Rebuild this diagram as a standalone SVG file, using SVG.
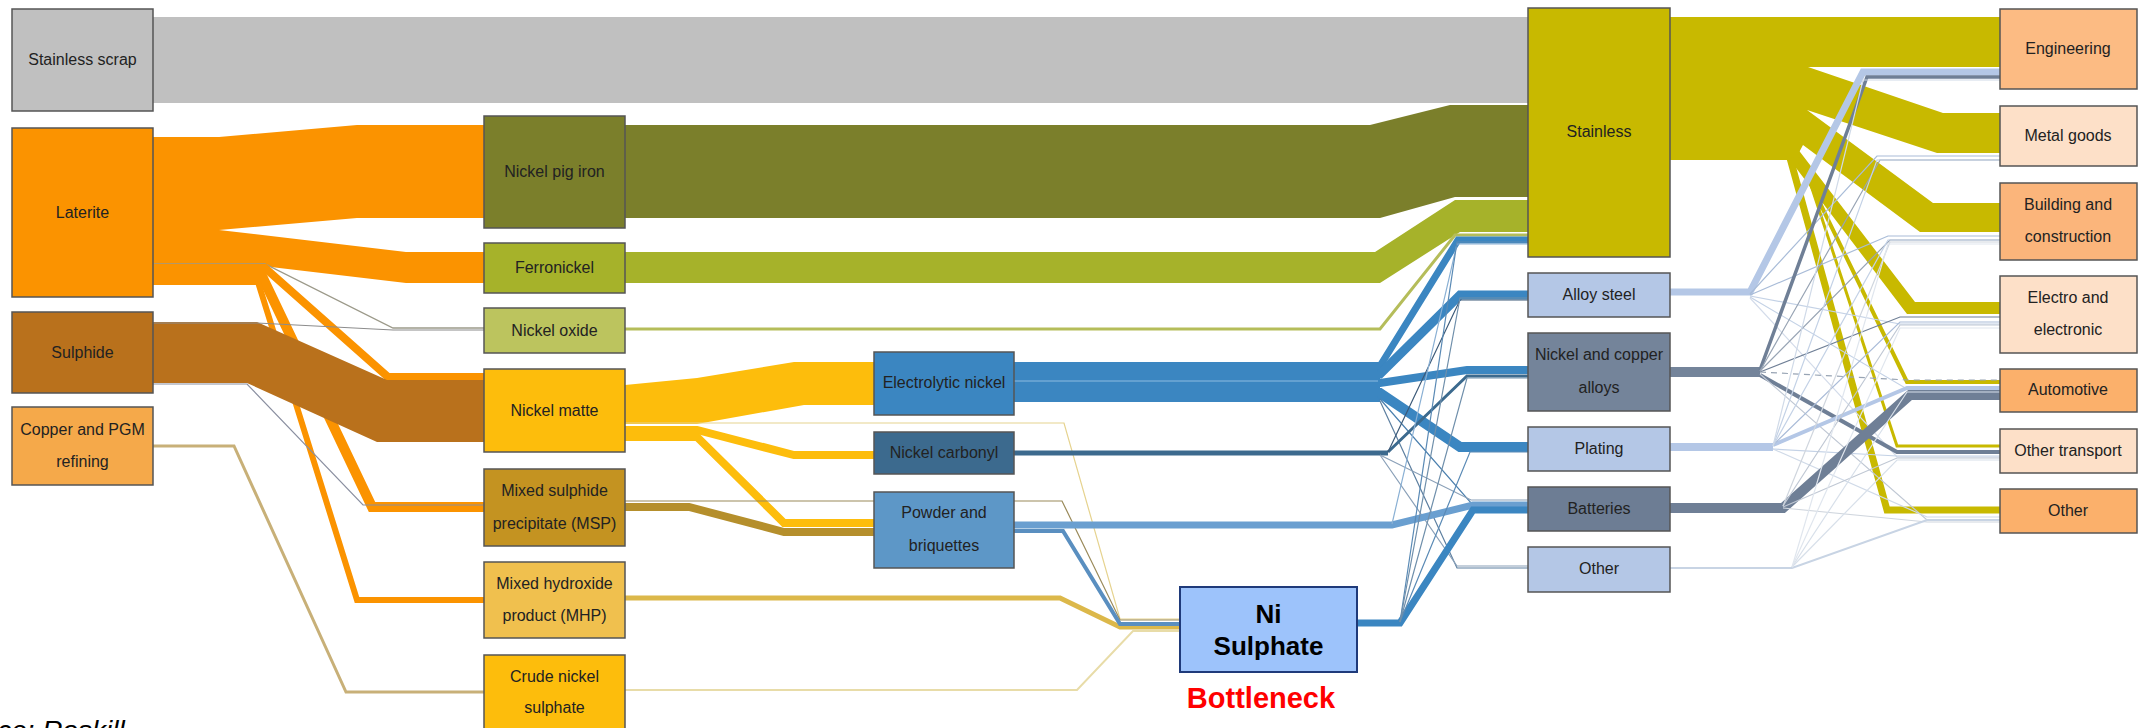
<svg xmlns="http://www.w3.org/2000/svg" width="2139" height="728" viewBox="0 0 2139 728">
<style>
.n{stroke:#555;stroke-width:1.5}
.t{font-family:"Liberation Sans",Arial,sans-serif;font-size:16px;fill:#222;text-anchor:middle}
.f{fill:none;stroke-linejoin:miter;stroke-miterlimit:10}
.thin{fill:none;stroke-width:1.2}
</style>
<rect width="2139" height="728" fill="#ffffff"/>
<g id="connectors">
<polygon points="153,17 1528,17 1528,103 153,103" fill="#c0c0c0"/>
<polygon points="153,137 219,137 357,125 484,125 484,218 357,218 219,230 153,230" fill="#fb9300"/>
<polygon points="153,230 219,230 406,252 484,252 484,283 406,283 219,261 153,261" fill="#fb9300"/>
<rect x="153" y="261" width="110" height="24" fill="#fb9300"/>
<polyline class="f" points="153,264 265,264 393,328 484,328" stroke="#9c9a8a" stroke-width="1.3"/>
<polyline class="f" points="153,268 265,268 388,377 484,377" stroke="#fb9300" stroke-width="8"/>
<polyline class="f" points="153,276 262,276 372,507 484,507" stroke="#fb9300" stroke-width="10"/>
<polyline class="f" points="153,282 258,282 357,600 484,600" stroke="#fb9300" stroke-width="6"/>
<polygon points="153,322 257,322 387,380 484,380 484,442 377,442 247,383 153,383" fill="#b9711c"/>
<polyline class="thin" points="153,323 257,323 393,330 484,330" stroke="#8c8c8c"/>
<polyline class="thin" points="153,384 247,384 363,505 484,505" stroke="#8a8fa0"/>
<polyline class="f" points="153,446 234,446 346,692 484,692" stroke="#c8b078" stroke-width="3"/>
<polygon points="625,125 1370,125 1450,105 1528,105 1528,197 1455,197 1380,218 625,218" fill="#7b7f2b"/>
<polygon points="625,252 1375,252 1455,200 1528,200 1528,232 1460,232 1380,283 625,283" fill="#a6b22a"/>
<polyline class="f" points="625,329 1380,329 1455,235 1528,235" stroke="#b5bd5a" stroke-width="3"/>
<polygon points="625,385 697,378 794,362 874,362 874,405 804,405 697,424 625,424" fill="#fdbd0c"/>
<polyline class="f" points="625,430 697,430 794,455 874,455" stroke="#fdbd0c" stroke-width="8"/>
<polyline class="f" points="625,437 697,437 784,523 874,523" stroke="#fdbd0c" stroke-width="8"/>
<polyline class="thin" points="625,423 1064,423 1120,619 1180,619" stroke="#e6d38f" stroke-width="1.5"/>
<polyline class="f" points="625,507 689,507 784,532 874,532" stroke="#b58f2c" stroke-width="8"/>
<polyline class="thin" points="625,501 1062,501 1120,620 1180,620" stroke="#9a8a5a" stroke-width="1.6"/>
<polyline class="f" points="625,598 1060,598 1120,627 1180,627" stroke="#dcb84a" stroke-width="5"/>
<polyline class="f" points="625,690 1077,690 1133,631 1180,631" stroke="#e8dca8" stroke-width="2"/>
<rect x="1014" y="362" width="366" height="40" fill="#3b86c1"/>
<line x1="1014" y1="381" x2="1380" y2="381" stroke="#8dbbe0" stroke-width="1"/>
<polyline class="f" points="1378,366 1380,366 1458,240 1528,240" stroke="#3b86c1" stroke-width="7"/>
<polyline class="f" points="1378,374 1380,374 1460,295 1528,295" stroke="#3b86c1" stroke-width="9"/>
<polyline class="f" points="1378,383 1380,383 1467,370 1528,370" stroke="#3b86c1" stroke-width="8"/>
<polyline class="f" points="1378,393 1380,393 1460,447 1528,447" stroke="#3b86c1" stroke-width="10"/>
<polyline class="thin" points="1380,399 1471,503 1528,503" stroke="#4a7fae" stroke-width="1.5"/>
<polyline class="thin" points="1380,401 1457,568 1528,568" stroke="#5d7fa0" stroke-width="1.5"/>
<polyline class="f" points="1014,453 1388,453" stroke="#3c6a8e" stroke-width="5"/>
<polyline class="f" points="1388,452 1467,376 1528,376" stroke="#3c6a8e" stroke-width="3"/>
<polyline class="thin" points="1388,452 1460,300 1528,300" stroke="#3c5a78"/>
<polyline class="thin" points="1380,455 1471,500 1528,500" stroke="#8aa0b8"/>
<polyline class="thin" points="1380,455 1457,566 1528,566" stroke="#8aa0b8"/>
<polyline class="f" points="1014,525 1392,525 1473,505 1528,505" stroke="#6a9fd0" stroke-width="7"/>
<polyline class="f" points="1014,531 1063,531 1120,624 1180,624" stroke="#5a8fc0" stroke-width="4"/>
<polyline class="thin" points="1392,524 1457,244 1528,244" stroke="#8ab0d4"/>
<polyline class="f" points="1357,623 1400,623 1473,510 1528,510" stroke="#3b86c1" stroke-width="7"/>
<polyline class="thin" points="1400,622 1457,242 1528,242" stroke="#5a8ab5"/>
<polyline class="thin" points="1400,622 1460,298 1528,298" stroke="#6f8fab"/>
<polyline class="thin" points="1400,622 1470,452 1528,452" stroke="#5a8ab5"/>
<polyline class="thin" points="1400,622 1467,378 1528,378" stroke="#6f8fab"/>
<polygon points="1670,17 2000,17 2000,67 1808,67 1943,113 2000,113 2000,153 1937,153 1807,110 1933,203 2000,203 2000,232 1920,232 1803,145 1795,160 1670,160" fill="#c8b900"/>
<polygon points="1797,148 1915,302 2000,302 2000,314 1907,314 1790,160" fill="#c8b900"/>
<polyline class="f" points="1790,158 1887,510 2000,510" stroke="#c8b900" stroke-width="7"/>
<polyline class="f" points="1798,158 1907,382 2000,382" stroke="#c8b900" stroke-width="4"/>
<polyline class="f" points="1802,158 1897,446 2000,446" stroke="#c8b900" stroke-width="3"/>
<polyline class="f" points="1670,292 1750,292 1863,72 2000,72" stroke="#b4c7e6" stroke-width="7"/>
<polyline class="thin" points="1750,294 1877,156 2000,156" stroke="#a9bcd8" stroke-width="2"/>
<polyline class="thin" points="1750,295 1888,236 2000,236" stroke="#a9bcd8" stroke-width="2"/>
<polyline class="thin" points="1750,296 1900,324 2000,324" stroke="#c4d2e6"/>
<polyline class="thin" points="1750,297 1907,389 2000,389" stroke="#c4d2e6"/>
<polyline class="thin" points="1750,298 1897,457 2000,457" stroke="#d4dcea"/>
<polyline class="f" points="1670,372 1760,372" stroke="#74849a" stroke-width="10"/>
<polyline class="f" points="1760,370 1867,77 2000,77" stroke="#6f7f96" stroke-width="3.5"/>
<polyline class="thin" points="1760,372 1900,317 2000,317" stroke="#6f7f96" stroke-width="2"/>
<polyline class="f" points="1760,375 1897,452 2000,452" stroke="#6f7f96" stroke-width="4"/>
<polyline class="thin" points="1760,371 1880,160 2000,160" stroke="#98a4b4"/>
<polyline class="thin" points="1760,371 1890,240 2000,240" stroke="#98a4b4"/>
<polyline class="thin" points="1760,372 1907,380 2000,380" stroke="#98a4b4" stroke-dasharray="6,5"/>
<polyline class="thin" points="1760,374 1927,520 2000,520" stroke="#c0c8d4"/>
<polyline class="f" points="1670,447 1773,447" stroke="#b4c7e6" stroke-width="8"/>
<polyline class="f" points="1773,445 1907,388 2000,388" stroke="#b4c7e6" stroke-width="4"/>
<polyline class="thin" points="1773,445 1900,322 2000,322" stroke="#aabcd8" stroke-width="2"/>
<polyline class="thin" points="1773,446 1888,240 2000,240" stroke="#c4d2e6" stroke-width="1.5"/>
<polyline class="thin" points="1773,446 1877,160 2000,160" stroke="#c4d2e6"/>
<polyline class="thin" points="1773,446 1863,80 2000,80" stroke="#d0dae8"/>
<polyline class="thin" points="1773,449 1897,456 2000,456" stroke="#c4d2e6" stroke-width="1.5"/>
<polyline class="thin" points="1773,449 1927,517 2000,517" stroke="#d0dae8"/>
<polyline class="f" points="1670,508 1783,508 1910,395 2000,395" stroke="#6f7f96" stroke-width="10"/>
<polyline class="thin" points="1783,506 1900,325 2000,325" stroke="#c0c8d4"/>
<polyline class="thin" points="1783,506 1890,242 2000,242" stroke="#d0d6de"/>
<polyline class="thin" points="1783,507 1897,458 2000,458" stroke="#c0c8d4"/>
<polyline class="thin" points="1783,508 1927,522 2000,522" stroke="#d0d6de"/>
<polyline class="f" points="1670,568 1792,568 1927,520 2000,520" stroke="#c8d4e4" stroke-width="2"/>
<polyline class="thin" points="1792,567 1897,460 2000,460" stroke="#d8e0ea"/>
<polyline class="thin" points="1792,567 1907,392 2000,392" stroke="#d8e0ea"/>
<polyline class="thin" points="1792,567 1900,328 2000,328" stroke="#e0e6ee"/>
<polyline class="thin" points="1792,567 1888,244 2000,244" stroke="#e0e6ee"/>
</g>
<g id="n-stainless-scrap"><rect class="n" x="12" y="9" width="141" height="102" fill="#c0c0c0"/><text class="t" x="82.5" y="65">Stainless scrap</text></g>
<g id="n-laterite"><rect class="n" x="12" y="128" width="141" height="169" fill="#fb9300"/><text class="t" x="82.5" y="218">Laterite</text></g>
<g id="n-sulphide"><rect class="n" x="12" y="312" width="141" height="81" fill="#b9711c"/><text class="t" x="82.5" y="358">Sulphide</text></g>
<g id="n-copper"><rect class="n" x="12" y="407" width="141" height="78" fill="#f5a94a"/><text class="t" x="82.5" y="435">Copper and PGM</text><text class="t" x="82.5" y="467">refining</text></g>
<g id="n-npi"><rect class="n" x="484" y="116" width="141" height="112" fill="#7b7f2b"/><text class="t" x="554.5" y="177">Nickel pig iron</text></g>
<g id="n-ferronickel"><rect class="n" x="484" y="243" width="141" height="50" fill="#a6b22a"/><text class="t" x="554.5" y="273">Ferronickel</text></g>
<g id="n-oxide"><rect class="n" x="484" y="308" width="141" height="45" fill="#bcc45e"/><text class="t" x="554.5" y="336">Nickel oxide</text></g>
<g id="n-matte"><rect class="n" x="484" y="369" width="141" height="83" fill="#fdbd0c"/><text class="t" x="554.5" y="416">Nickel matte</text></g>
<g id="n-msp"><rect class="n" x="484" y="469" width="141" height="77" fill="#c49321"/><text class="t" x="554.5" y="496">Mixed sulphide</text><text class="t" x="554.5" y="529">precipitate (MSP)</text></g>
<g id="n-mhp"><rect class="n" x="484" y="562" width="141" height="76" fill="#f0c04e"/><text class="t" x="554.5" y="589">Mixed hydroxide</text><text class="t" x="554.5" y="621">product (MHP)</text></g>
<g id="n-crude"><rect class="n" x="484" y="655" width="141" height="80" fill="#fdbd0c"/><text class="t" x="554.5" y="682">Crude nickel</text><text class="t" x="554.5" y="713">sulphate</text></g>
<g id="n-electrolytic"><rect class="n" x="874" y="352" width="140" height="63" fill="#3b86c1"/><text class="t" x="944" y="388">Electrolytic nickel</text></g>
<g id="n-carbonyl"><rect class="n" x="874" y="432" width="140" height="42" fill="#3c6a8e"/><text class="t" x="944" y="458">Nickel carbonyl</text></g>
<g id="n-powder"><rect class="n" x="874" y="492" width="140" height="76" fill="#5d97c7"/><text class="t" x="944" y="518">Powder and</text><text class="t" x="944" y="551">briquettes</text></g>
<g id="n-nisulphate"><rect x="1180" y="587" width="177" height="85" fill="#9dc3fb" stroke="#1f3a7a" stroke-width="2"/><text x="1268.5" y="623" font-family="'Liberation Sans',Arial,sans-serif" font-size="26" font-weight="bold" text-anchor="middle" fill="#000">Ni</text><text x="1268.5" y="655" font-family="'Liberation Sans',Arial,sans-serif" font-size="26" font-weight="bold" text-anchor="middle" fill="#000">Sulphate</text></g>
<g id="n-bottleneck"><text x="1261" y="708" font-family="'Liberation Sans',Arial,sans-serif" font-size="29" font-weight="bold" text-anchor="middle" fill="#ff0000">Bottleneck</text></g>
<g id="n-stainless"><rect class="n" x="1528" y="8" width="142" height="249" fill="#c8b900"/><text class="t" x="1599" y="137">Stainless</text></g>
<g id="n-alloy"><rect class="n" x="1528" y="273" width="142" height="44" fill="#b4c7e6"/><text class="t" x="1599" y="300">Alloy steel</text></g>
<g id="n-nicu"><rect class="n" x="1528" y="333" width="142" height="78" fill="#74849a"/><text class="t" x="1599" y="360">Nickel and copper</text><text class="t" x="1599" y="393">alloys</text></g>
<g id="n-plating"><rect class="n" x="1528" y="427" width="142" height="44" fill="#b4c7e6"/><text class="t" x="1599" y="454">Plating</text></g>
<g id="n-batteries"><rect class="n" x="1528" y="487" width="142" height="44" fill="#6d7d94"/><text class="t" x="1599" y="514">Batteries</text></g>
<g id="n-other4"><rect class="n" x="1528" y="547" width="142" height="45" fill="#b4c7e6"/><text class="t" x="1599" y="574">Other</text></g>
<g id="n-engineering"><rect class="n" x="2000" y="9" width="137" height="80" fill="#fcbb83"/><text class="t" x="2068" y="54">Engineering</text></g>
<g id="n-metal"><rect class="n" x="2000" y="106" width="137" height="60" fill="#fde0c8"/><text class="t" x="2068" y="141">Metal goods</text></g>
<g id="n-building"><rect class="n" x="2000" y="183" width="137" height="77" fill="#fbb57b"/><text class="t" x="2068" y="210">Building and</text><text class="t" x="2068" y="242">construction</text></g>
<g id="n-electro"><rect class="n" x="2000" y="276" width="137" height="77" fill="#fde0c8"/><text class="t" x="2068" y="303">Electro and</text><text class="t" x="2068" y="335">electronic</text></g>
<g id="n-automotive"><rect class="n" x="2000" y="369" width="137" height="43" fill="#fbb06b"/><text class="t" x="2068" y="395">Automotive</text></g>
<g id="n-othertransport"><rect class="n" x="2000" y="429" width="137" height="44" fill="#fde0c8"/><text class="t" x="2068" y="456">Other transport</text></g>
<g id="n-other5"><rect class="n" x="2000" y="489" width="137" height="44" fill="#fbb06b"/><text class="t" x="2068" y="516">Other</text></g>
<text x="-62" y="740" font-family="'Liberation Sans',Arial,sans-serif" font-size="28" font-style="italic" fill="#000">Source: Roskill</text>
</svg>
